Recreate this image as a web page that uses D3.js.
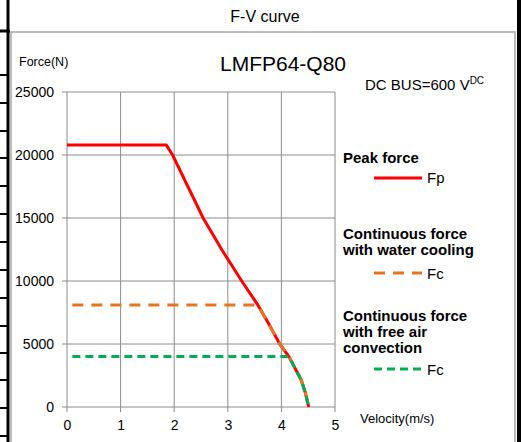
<!DOCTYPE html>
<html>
<head>
<meta charset="utf-8">
<script src="https://cdn.jsdelivr.net/npm/d3@7"></script>
<style>
html,body{margin:0;padding:0;background:#fff;}
svg{display:block;}
text{font-family:"Liberation Sans",Arial,sans-serif;fill:#000;}
</style>
</head>
<body>
<svg id="chart" width="521" height="442"></svg>
<script>
// ---- data ----
const xTicks = [0, 1, 2, 3, 4, 5];
const yTicks = [0, 5000, 10000, 15000, 20000, 25000];
const peakV = [0, 1.85, 1.97, 2.54, 2.9, 3.26, 3.56, 3.75, 3.97, 4.14, 4.37, 4.45, 4.51];
const peakF = [20800, 20800, 20000, 15000, 12400, 10000, 8100, 6700, 5000, 4000, 2140, 1085, 0];
const waterV = [0.1, 3.56, 3.75, 3.97, 4.14, 4.37, 4.45, 4.51];
const waterF = [8100, 8100, 6700, 5000, 4000, 2140, 1085, 0];
const airV = [0.1, 4.14, 4.37, 4.45, 4.51];
const airF = [4000, 4000, 2140, 1085, 0];
const rowLines = [75, 103, 131, 158, 186, 214, 242, 270, 298, 326, 353, 380, 408, 436];

const svg = d3.select("#chart");

// ---- frame (spreadsheet-like surroundings) ----
svg.append("rect").attr("x", 11).attr("y", 32).attr("width", 504).attr("height", 420)
  .attr("fill", "#fff").attr("stroke", "#a6a6a6").attr("stroke-width", 1.5);
svg.append("line").attr("x1", 8).attr("x2", 8).attr("y1", 0).attr("y2", 442)
  .attr("stroke", "#000").attr("stroke-width", 3);
svg.append("line").attr("x1", 519).attr("x2", 519).attr("y1", 0).attr("y2", 442)
  .attr("stroke", "#000").attr("stroke-width", 4);
svg.append("line").attr("x1", 0).attr("x2", 10).attr("y1", 31).attr("y2", 31)
  .attr("stroke", "#000").attr("stroke-width", 3);
svg.selectAll(".row").data(rowLines).enter().append("line")
  .attr("x1", 0).attr("x2", 8).attr("y1", d => d).attr("y2", d => d)
  .attr("stroke", "#000").attr("stroke-width", 2);

svg.append("text").attr("x", 265).attr("y", 22).attr("text-anchor", "middle")
  .attr("font-size", 16).text("F-V curve");

// ---- scales ----
const x = d3.scaleLinear().domain([0, 5]).range([67, 335]);
const y = d3.scaleLinear().domain([0, 25000]).range([407, 92]);

// gridlines
const g = svg.append("g");
g.selectAll(".hg").data(yTicks).enter().append("line")
  .attr("x1", x(0) - 5).attr("x2", x(5)).attr("y1", d => y(d)).attr("y2", d => y(d))
  .attr("stroke", "#8c8c8c").attr("stroke-width", 1);
g.selectAll(".vg").data(xTicks).enter().append("line")
  .attr("x1", d => x(d)).attr("x2", d => x(d)).attr("y1", y(25000)).attr("y2", y(0) + 5)
  .attr("stroke", "#8c8c8c").attr("stroke-width", 1);

// axes labels via d3 axes (no domain, no ticks)
const yAxis = svg.append("g").attr("transform", `translate(${x(0) - 13},0)`)
  .call(d3.axisLeft(y).tickValues(yTicks).tickSize(0).tickPadding(0).tickFormat(d3.format("d")));
yAxis.select(".domain").remove();
yAxis.selectAll("text").attr("font-size", 14).attr("font-family", "Liberation Sans, Arial, sans-serif").attr("fill", "#000").attr("dy", "0.35em");

const xAxis = svg.append("g").attr("transform", `translate(0,${y(0) + 13})`)
  .call(d3.axisBottom(x).tickValues(xTicks).tickSize(0).tickPadding(0).tickFormat(d3.format("d")));
xAxis.select(".domain").remove();
xAxis.selectAll("text").attr("font-size", 14).attr("font-family", "Liberation Sans, Arial, sans-serif").attr("fill", "#000");

svg.append("text").attr("x", 19).attr("y", 66).attr("font-size", 12.5).text("Force(N)");
svg.append("text").attr("x", 360).attr("y", 423).attr("font-size", 13).text("Velocity(m/s)");

svg.append("text").attr("x", 283).attr("y", 71).attr("text-anchor", "middle")
  .attr("font-size", 21).attr("font-family", "Lato, sans-serif").text("LMFP64-Q80");
const dc = svg.append("text").attr("x", 365).attr("y", 90).attr("font-size", 15);
dc.append("tspan").text("DC BUS=600 V");
dc.append("tspan").attr("font-size", 10).attr("dy", -6).text("DC");

// ---- series ----
const line = d3.line().x(d => x(d[0])).y(d => y(d[1]));
const peak = peakV.map((v, i) => [v, peakF[i]]);
const water = waterV.map((v, i) => [v, waterF[i]]);
const air = airV.map((v, i) => [v, airF[i]]);

const orange = "#e9741f", green = "#00b050", red = "#ff0000";

svg.append("path").datum(peak).attr("d", line).attr("fill", "none")
  .attr("stroke", red).attr("stroke-width", 3).attr("stroke-linejoin", "round");
svg.append("path").datum(water).attr("d", line).attr("fill", "none")
  .attr("stroke", orange).attr("stroke-width", 3).attr("stroke-dasharray", "11,8");
svg.append("path").datum(air).attr("d", line).attr("fill", "none")
  .attr("stroke", green).attr("stroke-width", 3).attr("stroke-dasharray", "8,5");

// ---- legend ----
const lg = svg.append("g");
function bold(txt, yy) {
  lg.append("text").attr("x", 343).attr("y", yy).attr("font-size", 15).attr("font-weight", "bold").text(txt);
}
bold("Peak force", 163);
lg.append("line").attr("x1", 374).attr("x2", 422).attr("y1", 178).attr("y2", 178)
  .attr("stroke", red).attr("stroke-width", 3);
lg.append("text").attr("x", 427).attr("y", 183).attr("font-size", 15).text("Fp");

bold("Continuous force", 239);
bold("with water cooling", 255);
lg.append("line").attr("x1", 374).attr("x2", 422).attr("y1", 273).attr("y2", 273)
  .attr("stroke", orange).attr("stroke-width", 3).attr("stroke-dasharray", "11,8");
lg.append("text").attr("x", 427).attr("y", 279).attr("font-size", 15).text("Fc");

bold("Continuous force", 321);
bold("with free air", 337);
bold("convection", 353);
lg.append("line").attr("x1", 374).attr("x2", 422).attr("y1", 369).attr("y2", 369)
  .attr("stroke", green).attr("stroke-width", 3).attr("stroke-dasharray", "8,5");
lg.append("text").attr("x", 427).attr("y", 375).attr("font-size", 15).text("Fc");
</script>
</body>
</html>
